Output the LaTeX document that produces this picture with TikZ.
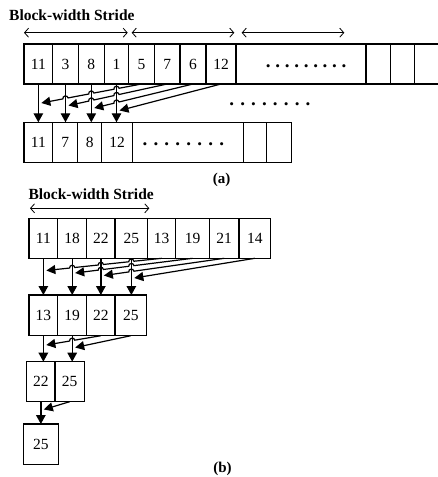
\documentclass[tikz,border=0pt]{standalone}
\usepackage{fontspec}
\setmainfont{Liberation Serif}
\usetikzlibrary{arrows.meta,calc}
\makeatletter
\newcommand\hoparrow[5]{%
  \def\hp@path{\draw[diagarrow] (#1)}%
  \@for\hp@x:=#5\do{%
    \pgfmathsetmacro\hp@ta{(#3-\hp@x)/(#3-#4)-2.6/(#3-#4)}%
    \pgfmathsetmacro\hp@tb{(#3-\hp@x)/(#3-#4)+2.6/(#3-#4)}%
    \edef\hp@path{\unexpanded\expandafter{\hp@path} -- ($(#1)!\hp@ta!(#2)$) to[hop] ($(#1)!\hp@tb!(#2)$)}%
  }%
  \hp@path -- (#2);%
}
\makeatother
\newcommand\cellnode[6]{\node[cellbox, minimum width={#3-#2}, minimum height={#5-#4}] (#1) at ({(#2+#3)/2},{(#4+#5)/2}) {#6};}
\newcommand\dotrow[2]{\foreach \i in {1,...,#1}{\makebox[#2pt]{.}}}
\tikzset{
  cellbox/.style={draw, line width=1.4pt, inner sep=0pt, outer sep=0pt, font=\fontsize{15.5}{18}\selectfont},
  vert/.style={line width=1.3pt, -{Triangle[length=9pt,width=9.5pt]}},
  diagarrow/.style={line width=1.2pt, -{Triangle[length=9pt,width=9pt]}},
  hop/.style={bend right=90, looseness=1.6},
  stride/.style={line width=0.8pt, {Straight Barb[length=4pt,width=9pt]}-{Straight Barb[length=4pt,width=9pt]}},
  title/.style={font=\bfseries\fontsize{15.5}{18}\selectfont, anchor=base west, inner sep=0pt},
  caption/.style={font=\bfseries\fontsize{15}{18}\selectfont, anchor=base, inner sep=0pt},
  dotrow/.style={font=\bfseries\fontsize{19}{20}\selectfont, inner sep=0pt},
  edgeline/.style={line width=1.4pt},
}
\begin{document}
\begin{tikzpicture}[x=1pt,y=-1pt]
\useasboundingbox (0,0) rectangle (438,477);
% ---------- (a) ----------
\node[title] (ta) at (9,20) {Block-width Stride};
\coordinate (s1l) at (24,32.7);  \coordinate (s1r) at (127.7,32.7);
\coordinate (s2l) at (131.7,32.7); \coordinate (s2r) at (234.3,32.7);
\coordinate (s3l) at (241.7,32.7); \coordinate (s3r) at (344.3,32.7);
\draw[stride] (s1l) -- (s1r);
\draw[stride] (s2l) -- (s2r);
\draw[stride] (s3l) -- (s3r);
% top row
\cellnode{a1}{24}{52.7}{44}{84}{11}
\cellnode{a2}{52.7}{78.3}{44}{84}{3}
\cellnode{a3}{78.3}{104.3}{44}{84}{8}
\cellnode{a4}{104.3}{128.7}{44}{84}{1}
\cellnode{a5}{128.7}{154.3}{44}{84}{5}
\cellnode{a6}{154.3}{180}{44}{84}{7}
\cellnode{a7}{180}{206}{44}{84}{6}
\cellnode{a8}{206}{236}{44}{84}{12}
\cellnode{a9}{236}{366}{44}{84}{}
\cellnode{a10}{366}{390.3}{44}{84}{}
\cellnode{a11}{390.3}{414.3}{44}{84}{}
\coordinate (aendt) at (438,44); \coordinate (aendb) at (438,84);
\draw[edgeline] (a11.north east) -- (aendt);
\draw[edgeline] (a11.south east) -- (aendb);
\node[dotrow] (ad1) at (306.2,66.7) {\dotrow{9}{9.46}};
\node[dotrow] (ad2) at (269.9,104) {\dotrow{8}{10.9}};
% bottom row
\cellnode{b1}{24}{52.7}{122.3}{162.7}{11}
\cellnode{b2}{52.7}{77.7}{122.3}{162.7}{7}
\cellnode{b3}{77.7}{101.7}{122.3}{162.7}{8}
\cellnode{b4}{101.7}{132.3}{122.3}{162.7}{12}
\cellnode{b5}{132.3}{243.3}{122.3}{162.7}{}
\cellnode{b6}{243.3}{266.7}{122.3}{162.7}{}
\cellnode{b7}{266.7}{291.7}{122.3}{162.7}{}
\node[dotrow] (ad3) at (183.3,144.3) {\dotrow{8}{10.96}};
% arrows (a)
\draw[vert] (a1.south) -- (a1.south |- b1.north);
\draw[vert] (a2.south) -- (a2.south |- b2.north);
\draw[vert] (a3.south) -- (a3.south |- b3.north);
\draw[vert] (a4.south) -- (a4.south |- b4.north);
\coordinate (a5s) at (a5.south); \coordinate (a6s) at (a6.south);
\coordinate (a7s) at (a7.south); \coordinate (a8s) at (a8.south);
\coordinate (ae1) at (41.35,103);
\coordinate (ae2) at (68.5,105.5);
\coordinate (ae3) at (94.3,108);
\coordinate (ae4) at (119.5,110.5);
\hoparrow{a5s}{ae1}{141.5}{41.35}{116.5,91.3,65.5}
\hoparrow{a6s}{ae2}{167.15}{68.5}{116.5,91.3}
\hoparrow{a7s}{ae3}{193}{94.3}{116.5}
\draw[diagarrow] (a8s) -- (ae4);
\node[caption] (capa) at (221.7,183.7) {(a)};
% ---------- (b) ----------
\node[title] (tb) at (28.3,199.5) {Block-width Stride};
\coordinate (s4l) at (30,208.3); \coordinate (s4r) at (149.3,208.3);
\draw[stride] (s4l) -- (s4r);
\cellnode{c1}{29}{57.7}{218.3}{258.3}{11}
\cellnode{c2}{57.7}{86.7}{218.3}{258.3}{18}
\cellnode{c3}{86.7}{115}{218.3}{258.3}{22}
\cellnode{c4}{115}{147.7}{218.3}{258.3}{25}
\cellnode{c5}{147.7}{175.7}{218.3}{258.3}{13}
\cellnode{c6}{175.7}{209.3}{218.3}{258.3}{19}
\cellnode{c7}{209.3}{239}{218.3}{258.3}{21}
\cellnode{c8}{239}{270.7}{218.3}{258.3}{14}
\cellnode{d1}{29}{57.7}{295}{335.7}{13}
\cellnode{d2}{57.7}{86.7}{295}{335.7}{19}
\cellnode{d3}{86.7}{115}{295}{335.7}{22}
\cellnode{d4}{115}{146.7}{295}{335.7}{25}
\cellnode{e1}{26.7}{55}{361.7}{401.7}{22}
\cellnode{e2}{55}{84.3}{361.7}{401.7}{25}
\cellnode{f1}{23.5}{58.3}{424}{464.3}{25}
% arrows row1 -> row2
\draw[vert] (c1.south) -- (c1.south |- d1.north);
\draw[vert] (c2.south) -- (c2.south |- d2.north);
\draw[vert] (c3.south) -- (c3.south |- d3.north);
\draw[vert] (c4.south) -- (c4.south |- d4.north);
\coordinate (c5s) at (c5.south); \coordinate (c6s) at (c6.south);
\coordinate (c7s) at (c7.south); \coordinate (c8s) at (c8.south);
\coordinate (ce1) at (46.35,270.5);
\coordinate (ce2) at (75.2,273);
\coordinate (ce3) at (103.85,275.5);
\coordinate (ce4) at (134.35,278);
\hoparrow{c5s}{ce1}{161.7}{46.35}{131.35,100.85,72.2}
\hoparrow{c6s}{ce2}{192.5}{75.2}{131.35,100.85}
\hoparrow{c7s}{ce3}{224.15}{103.85}{131.35}
\draw[diagarrow] (c8s) -- (ce4);
% arrows row2 -> row3
\draw[vert] (d1.south) -- (d1.south |- e1.north);
\draw[vert] (d2.south) -- (d2.south |- e2.north);
\coordinate (d3s) at (d3.south); \coordinate (d4s) at (d4.south);
\coordinate (de1) at (46.35,345);
\coordinate (de2) at (75.2,347.5);
\hoparrow{d3s}{de1}{100.85}{46.35}{72.2}
\draw[diagarrow] (d4s) -- (de2);
% arrows row3 -> row4
\draw[vert] (e1.south) -- (e1.south |- f1.north);
\coordinate (e2s) at (e2.south);
\coordinate (ee1) at (43.85,409.5);
\draw[diagarrow] (e2s) -- (ee1);
\node[caption] (capb) at (222.5,472) {(b)};
\end{tikzpicture}
\end{document}
